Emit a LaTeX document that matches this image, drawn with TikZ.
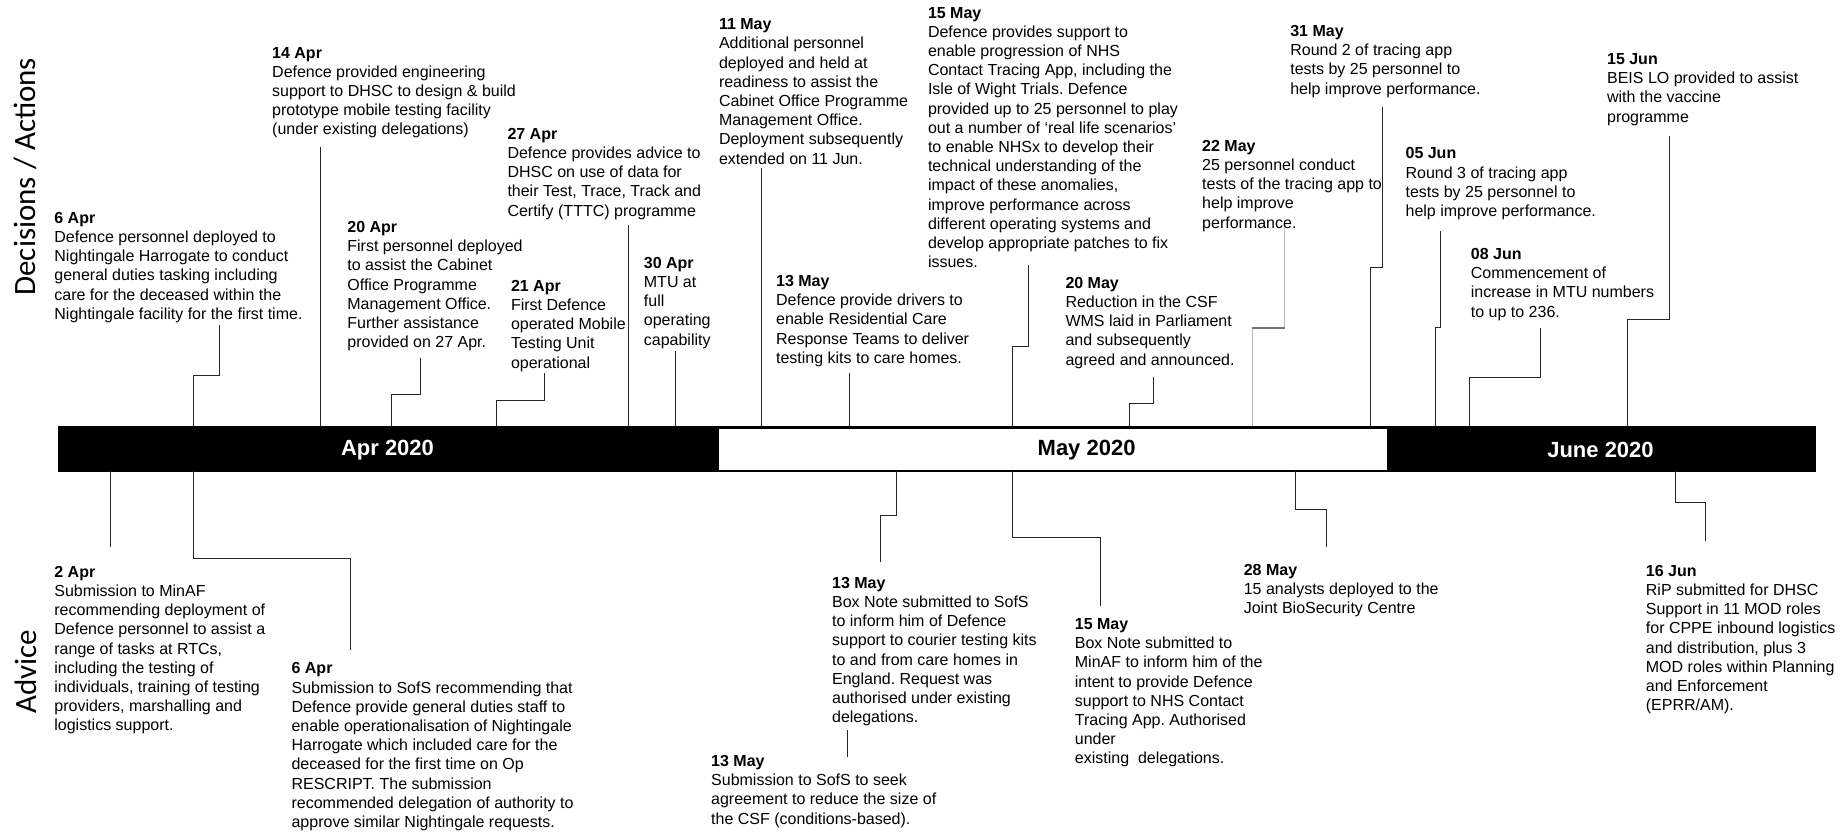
\documentclass[tikz,border=0pt]{standalone}
\usepackage{fontspec}
\setmainfont{Liberation Sans}
\newfontfamily\sidefont{Carlito}
\usetikzlibrary{calc}
\frenchspacing
\tikzset{
  evt/.style={anchor=north west, inner sep=0pt, align=left,
              font=\fontsize{16}{19.2}\selectfont},
  link/.style={line width=1pt, draw=black!85},
  faint/.style={line width=1pt, draw=black!28},
  faintbar/.style={line width=2pt, draw=black!55},
  month/.style={inner sep=0pt, font=\fontsize{22}{24}\selectfont\bfseries},
  side/.style={rotate=90, inner sep=0pt, font=\sidefont\fontsize{31}{31}\selectfont},
}
\begin{document}
\begin{tikzpicture}[x=1pt,y=-1pt]
\fill[white] (0,0) rectangle (1848,832);
\useasboundingbox (0,0) rectangle (1848,832);

% row captions
\node[side] (lblTop) at (25.7,176.7) {Decisions / Actions};
\node[side] (lblBot) at (25.7,671.7) {Advice};

% timeline bar with the white May section
\node[fill=black, draw=black, anchor=north west, inner sep=0pt,
      minimum width=1757pt, minimum height=45pt] (bar) at (57.7,426) {};
\node[fill=white, draw=black, line width=0.8pt, anchor=north west, inner sep=0pt,
      minimum width=669pt, minimum height=42pt] (maysec) at (718.4,427.5) {};
\node[month, text=white] (mApr) at (387.5,450) {Apr 2020};
\node[month, text=black] (mMay) at (1086.6,450) {May 2020};
\node[month, text=white] (mJun) at (1600.5,450) {June 2020};

% decisions / actions
\node[evt] (e6apr) at (54.2,211.9) {\textbf{6 Apr}\\Defence personnel deployed to\\Nightingale Harrogate to conduct\\general duties tasking including\\care for the deceased within the\\Nightingale facility for the first time.};
\node[evt] (e14apr) at (272,46.9) {\textbf{14 Apr}\\Defence provided engineering\\support to DHSC to design \& build\\prototype mobile testing facility\\(under existing delegations)};
\node[evt] (e20apr) at (347.2,221.2) {\textbf{20 Apr}\\First personnel deployed\\to assist the Cabinet\\Office Programme\\Management Office.\\Further assistance\\provided on 27 Apr.};
\node[evt] (e21apr) at (510.8,279.9) {\textbf{21 Apr}\\First Defence\\operated Mobile\\Testing Unit\\operational};
\node[evt] (e27apr) at (507.3,127.9) {\textbf{27 Apr}\\Defence provides advice to\\DHSC on use of data for\\their Test, Trace, Track and\\Certify (TTTC) programme};
\node[evt] (e30apr) at (643.7,256.9) {\textbf{30 Apr}\\MTU at\\full\\operating\\capability};
\node[evt] (e11may) at (718.8,18.5) {\textbf{11 May}\\Additional personnel\\deployed and held at\\readiness to assist the\\Cabinet Office Programme\\Management Office.\\Deployment subsequently\\extended on 11 Jun.};
\node[evt] (e13may) at (775.9,275.2) {\textbf{13 May}\\Defence provide drivers to\\enable Residential Care\\Response Teams to deliver\\testing kits to care homes.};
\node[evt] (e15may) at (927.8,6.9) {\textbf{15 May}\\Defence provides support to\\enable progression of NHS\\Contact Tracing App, including the\\Isle of Wight Trials. Defence\\provided up to 25 personnel to play\\out a number of ‘real life scenarios’\\to enable NHSx to develop their\\technical understanding of the\\impact of these anomalies,\\improve performance across\\different operating systems and\\develop appropriate patches to fix\\issues.};
\node[evt] (e20may) at (1065.3,276.9) {\textbf{20 May}\\Reduction in the CSF\\WMS laid in Parliament\\and subsequently\\agreed and announced.};
\node[evt] (e22may) at (1202,139.9) {\textbf{22 May}\\25 personnel conduct\\tests of the tracing app to\\help improve\\performance.};
\node[evt] (e31may) at (1290.1,25.2) {\textbf{31 May}\\Round 2 of tracing app\\tests by 25 personnel to\\help improve performance.};
\node[evt] (e05jun) at (1405.4,147.5) {\textbf{05 Jun}\\Round 3 of tracing app\\tests by 25 personnel to\\help improve performance.};
\node[evt] (e08jun) at (1470.7,248.2) {\textbf{08 Jun}\\Commencement of\\increase in MTU numbers\\to up to 236.};
\node[evt] (e15jun) at (1606.9,53.2) {\textbf{15 Jun}\\BEIS LO provided to assist\\with the vaccine\\programme};

% advice
\node[evt] (a2apr) at (54.2,565.9) {\textbf{2 Apr}\\Submission to MinAF\\recommending deployment of\\Defence personnel to assist a\\range of tasks at RTCs,\\including the testing of\\individuals, training of testing\\providers, marshalling and\\logistics support.};
\node[evt] (a6apr) at (291.4,662.5) {\textbf{6 Apr}\\Submission to SofS recommending that\\Defence provide general duties staff to\\enable operationalisation of Nightingale\\Harrogate which included care for the\\deceased for the first time on Op\\RESCRIPT. The submission\\recommended delegation of authority to\\approve similar Nightingale requests.};
\node[evt] (a13mayb) at (831.9,576.9) {\textbf{13 May}\\Box Note submitted to SofS\\to inform him of Defence\\support to courier testing kits\\to and from care homes in\\England. Request was\\authorised under existing\\delegations.};
\node[evt] (a13mays) at (711,755.2) {\textbf{13 May}\\Submission to SofS to seek\\agreement to reduce the size of\\the CSF (conditions-based).};
\node[evt] (a15may) at (1074.7,618.2) {\textbf{15 May}\\Box Note submitted to\\MinAF to inform him of the\\intent to provide Defence\\support to NHS Contact\\Tracing App. Authorised\\under\\existing\ \ delegations.};
\node[evt] (a28may) at (1243.6,564.2) {\textbf{28 May}\\15 analysts deployed to the\\Joint BioSecurity Centre};
\node[evt] (a16jun) at (1645.7,564.9) {\textbf{16 Jun}\\RiP submitted for DHSC\\Support in 11 MOD roles\\for CPPE inbound logistics\\and distribution, plus 3\\MOD roles within Planning\\and Enforcement\\(EPRR/AM).};

% leader lines above the bar
\draw[link] (219.8,325) |- (193.7,375.7) -- (193.7,0 |- bar.north);
\draw[link] (320.3,146.7) -- (320.3,0 |- bar.north);
\draw[link] (420,358.3) |- (391.4,394.3) -- (391.4,0 |- bar.north);
\draw[link] (544.9,373.3) |- (496.2,400) -- (496.2,0 |- bar.north);
\draw[link] (628.6,225) -- (628.6,0 |- bar.north);
\draw[link] (675.5,350.7) -- (675.5,0 |- bar.north);
\draw[link] (761.2,168.3) -- (761.2,0 |- bar.north);
\draw[link] (849.4,373.3) -- (849.4,0 |- bar.north);
\draw[link] (1028.6,265) |- (1012.3,346) -- (1012.3,0 |- bar.north);
\draw[link] (1153.1,376.7) |- (1129.4,403.3) -- (1129.4,0 |- bar.north);
\draw[faint] (1284.9,226.7) -- (1284.9,328.3);
\draw[faint] (1252.3,328.3) -- (1252.3,0 |- bar.north);
\draw[faintbar] (1284.9,328.3) -- (1252.3,328.3);
\draw[link] (1382.2,107.3) |- (1370.2,267.3) -- (1370.2,0 |- bar.north);
\draw[link] (1440.3,231) |- (1435.5,327.7) -- (1435.5,0 |- bar.north);
\draw[link] (1540.4,328.3) |- (1469.5,377.7) -- (1469.5,0 |- bar.north);
\draw[link] (1669.4,136) |- (1627.3,319) -- (1627.3,0 |- bar.north);

% leader lines below the bar
\draw[link] (110.7,0 |- bar.south) -- (110.7,547.3);
\draw[link] (193.7,0 |- bar.south) |- (350.7,558.3) -- (350.7,650);
\draw[link] (896,0 |- bar.south) |- (880.8,515.7) -- (880.8,562.3);
\draw[link] (847,730) -- (847,756.7);
\draw[link] (1012.3,0 |- bar.south) |- (1100,537.7) -- (1100,606);
\draw[link] (1295.3,0 |- bar.south) |- (1326.1,509.3) -- (1326.1,547.3);
\draw[link] (1675.4,0 |- bar.south) |- (1705.8,502.7) -- (1705.8,540.7);
\end{tikzpicture}
\end{document}
